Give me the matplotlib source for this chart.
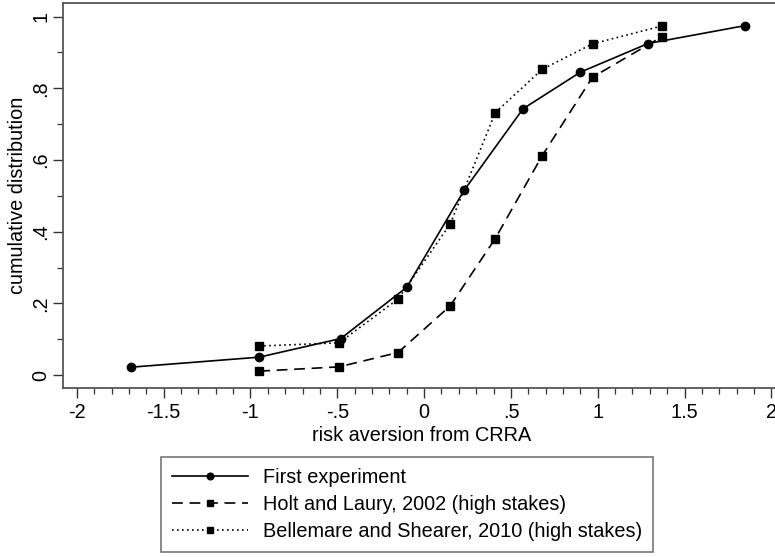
import matplotlib
matplotlib.use("Agg")
import matplotlib.pyplot as plt
from matplotlib.ticker import MultipleLocator

plt.rcParams["font.family"] = ["Liberation Sans", "DejaVu Sans"]

# CRRA risk aversion vs. cumulative share of subjects
first_x = [-1.69, -0.95, -0.48, -0.10, 0.23, 0.57, 0.90, 1.29, 1.85]
first_y = [0.022, 0.05, 0.102, 0.245, 0.515, 0.743, 0.845, 0.925, 0.975]

hl_x = [-0.95, -0.49, -0.15, 0.15, 0.41, 0.68, 0.97, 1.37]
hl_y = [0.011, 0.023, 0.063, 0.193, 0.381, 0.612, 0.831, 0.944]

bs_x = [-0.95, -0.49, -0.15, 0.15, 0.41, 0.68, 0.97, 1.37]
bs_y = [0.081, 0.090, 0.212, 0.421, 0.732, 0.853, 0.924, 0.974]

xticks = [-2, -1.5, -1, -0.5, 0, 0.5, 1, 1.5, 2]
xticklabels = ["-2", "-1.5", "-1", "-.5", "0", ".5", "1", "1.5", "2"]
yticks = [0, 0.2, 0.4, 0.6, 0.8, 1]
yticklabels = ["0", ".2", ".4", ".6", ".8", "1"]

FS = 14.3
W, H = 775, 557

fig = plt.figure(figsize=(W / 100, H / 100), dpi=100)
ax = fig.add_axes([63 / W, 1 - 388 / H, (780 - 63) / W, (388 - 3) / H])

ax.plot(first_x, first_y, color="black", lw=1.2, marker="o", ms=6,
        label="First experiment")
ax.plot(hl_x, hl_y, color="black", lw=1.2, marker="s", ms=6,
        dashes=(6.5, 4), label="Holt and Laury, 2002 (high stakes)")
ax.plot(bs_x, bs_y, color="black", lw=1.2, marker="s", ms=6,
        dashes=(1, 2), label="Bellemare and Shearer, 2010 (high stakes)")

ax.set_xlim(-2.08, 2.05)
ax.set_ylim(-0.036, 1.038)

ax.set_xticks(xticks)
ax.set_xticklabels(xticklabels, fontsize=FS)
ax.set_yticks(yticks)
ax.set_yticklabels(yticklabels, fontsize=FS, rotation=90, va="center")
ax.xaxis.set_minor_locator(MultipleLocator(0.1))
ax.yaxis.set_minor_locator(MultipleLocator(0.1))
ax.tick_params(which="major", length=7, width=1.0, color="#333333")
ax.tick_params(which="minor", length=4, width=0.9, color="#333333")
ax.tick_params(axis="x", pad=4)
ax.tick_params(axis="y", pad=2)

for sp in ax.spines.values():
    sp.set_color("#555555")
    sp.set_linewidth(1.3)

ax.set_xlabel("risk aversion from CRRA", fontsize=FS, labelpad=3)
ax.set_ylabel("cumulative distribution", fontsize=FS, labelpad=3)

leg = fig.legend(loc="center", bbox_to_anchor=(407 / W, 1 - 504.5 / H),
                 ncol=1, fontsize=FS, frameon=True, fancybox=False,
                 handlelength=3.8, handletextpad=0.75, borderpad=0.55,
                 labelspacing=0.4, markerscale=0.8)
leg.get_frame().set_edgecolor("#555555")
leg.get_frame().set_linewidth(1.2)

fig.savefig("out.png", dpi=100)
